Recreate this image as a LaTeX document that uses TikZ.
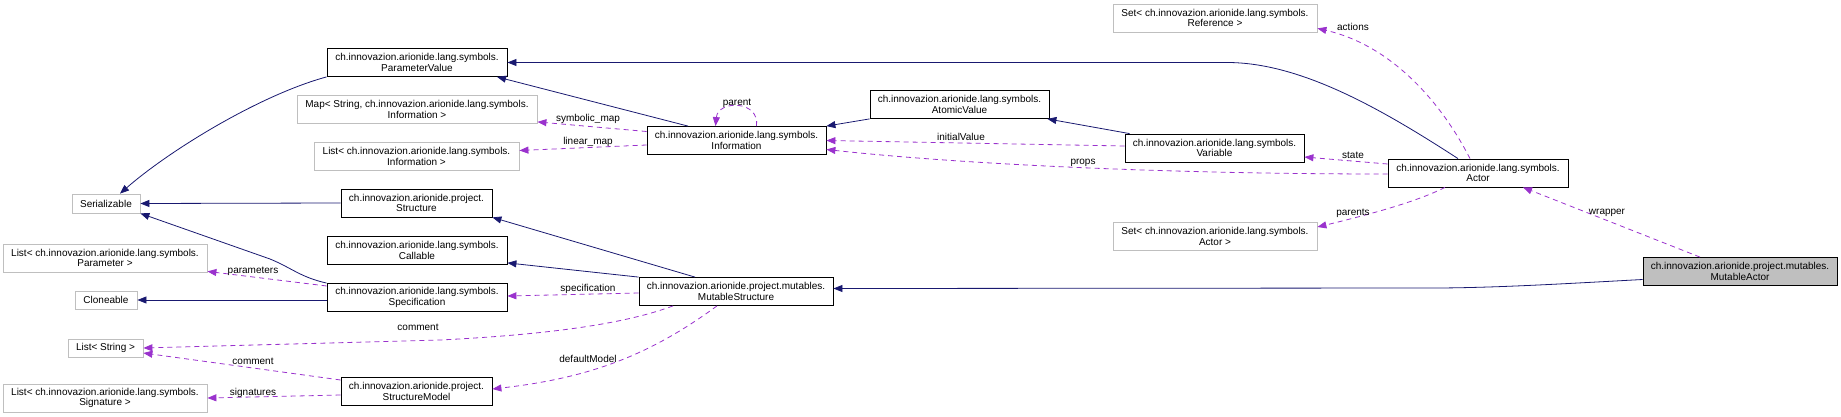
\documentclass[tikz,border=0pt]{standalone}
\usepackage{fontspec}
\setmainfont{Liberation Sans}
\usepackage{tikz}
\usetikzlibrary{arrows.meta}
\definecolor{edgeblue}{HTML}{191970}
\definecolor{edgepurple}{HTML}{9A32CD}
\definecolor{boxgray}{HTML}{BFBFBF}
\tikzstyle{cls} = [draw=black,line width=0.8pt,fill=white,inner sep=0pt,minimum height=28pt,align=center,font=\fontsize{10}{10.5}\selectfont]
\tikzstyle{ext} = [cls,draw=boxgray]
\tikzstyle{lbl} = [inner sep=0pt,font=\fontsize{10}{10.5}\selectfont]
\tikzstyle{inherit} = [draw=edgeblue,line width=0.8pt,-{Triangle[length=9pt,width=7pt]}]
\tikzstyle{member} = [draw=edgepurple,line width=0.8pt,dash pattern=on 5pt off 4pt,-{Triangle[length=9pt,width=7pt]}]

\begin{document}
\begin{tikzpicture}[x=1pt,y=-1pt]
								\useasboundingbox (0,0) rectangle (1841,417);
							
								%Nodes
								\node [cls, minimum width=180pt] (ParamVal) at (417,62.5) {ch.innovazion.arionide.lang.symbols.\\ParameterValue};
								\node [ext, minimum width=240pt] (SymMap) at (417,109.5) {Map< String, ch.innovazion.arionide.lang.symbols.\\Information >};
								\node [ext, minimum width=205pt] (LinMap) at (416.5,156.5) {List< ch.innovazion.arionide.lang.symbols.\\Information >};
								\node [ext, minimum width=68pt, minimum height=19pt] (Serial) at (106,203.5) {Serializable};
								\node [cls, minimum width=151pt] (Struct) at (416.5,203) {ch.innovazion.arionide.project.\\Structure};
								\node [cls, minimum width=180pt] (Call) at (417,250.5) {ch.innovazion.arionide.lang.symbols.\\Callable};
								\node [ext, minimum width=204pt] (ParList) at (105,258) {List< ch.innovazion.arionide.lang.symbols.\\Parameter >};
								\node [cls, minimum width=180pt] (Spec) at (417,297.5) {ch.innovazion.arionide.lang.symbols.\\Specification};
								\node [ext, minimum width=62pt, minimum height=18pt] (Clone) at (106,300) {Cloneable};
								\node [ext, minimum width=75pt, minimum height=18pt] (StrList) at (105.5,348) {List< String >};
								\node [ext, minimum width=204pt] (SigList) at (105,398) {List< ch.innovazion.arionide.lang.symbols.\\Signature >};
								\node [cls, minimum width=151pt] (Model) at (416.5,391.5) {ch.innovazion.arionide.project.\\StructureModel};
								\node [cls, minimum width=179pt] (Info) at (736.5,140.5) {ch.innovazion.arionide.lang.symbols.\\Information};
								\node [cls, minimum width=194pt] (MutStruct) at (736,291.5) {ch.innovazion.arionide.project.mutables.\\MutableStructure};
								\node [cls, minimum width=179pt] (Atomic) at (959.5,104.5) {ch.innovazion.arionide.lang.symbols.\\AtomicValue};
								\node [cls, minimum width=179pt] (Var) at (1214.5,148) {ch.innovazion.arionide.lang.symbols.\\Variable};
								\node [ext, minimum width=204pt] (RefSet) at (1215,18) {Set< ch.innovazion.arionide.lang.symbols.\\Reference >};
								\node [ext, minimum width=204pt] (ActSet) at (1215,236.5) {Set< ch.innovazion.arionide.lang.symbols.\\Actor >};
								\node [cls, minimum width=180pt] (Actor) at (1478,173) {ch.innovazion.arionide.lang.symbols.\\Actor};
								\node [cls, fill=boxgray, minimum width=194pt] (MutActor) at (1740,271.5) {ch.innovazion.arionide.project.mutables.\\MutableActor};
							
								%Lines
								\draw[inherit] (ParamVal.south west) .. controls (260,95) and (170,150) .. ([xshift=14pt]Serial.north);
								\draw[inherit] (Struct.west) -- (Serial.east);
								\draw[inherit] (Spec.north west) .. controls (300,277) and (292,268) .. (270,259) -- (Serial.south east);
								\draw[inherit] (Clone.east -| Spec.west) -- (Clone.east);
								\draw[inherit] ([xshift=-48.5pt]Info.north) -- ([xshift=80pt]ParamVal.south);
								\draw[inherit] (Atomic.south west) -- (Info.north east);
								\draw[inherit] ([xshift=5pt]Var.north west) -- ([xshift=-2pt]Atomic.south east);
								\draw[inherit] ([xshift=-20pt]Actor.north) .. controls (1380,108) and (1300,62.5) .. (1227,62.5) -- (ParamVal.east);
								\draw[inherit] ([xshift=-41pt]MutStruct.north) -- (Struct.south east);
								\draw[inherit] (MutStruct.north west) -- ([yshift=2pt]Call.south east);
								\draw[inherit] ([yshift=-8pt]MutActor.west) .. controls (1560,284) and (1500,287.5) .. (1440,288) -- ([yshift=3pt]MutStruct.east);
							
								\draw[member] ([yshift=9pt]Info.west) -- ([yshift=2pt]SymMap.south east);
								\draw[member] ([yshift=-4.5pt]Info.west) -- ([yshift=6pt]LinMap.east);
								\draw[member] ([xshift=20pt]Info.north) .. controls (760,100) and (718,100) .. ([xshift=-21pt]Info.north);
								\draw[member] ([yshift=2pt]Var.west) -- (Info.east);
								\draw[member] ([yshift=-1pt]Actor.west) .. controls (1150,174) and (950,163) .. ([yshift=-9pt]Info.east);
								\draw[member] ([yshift=9pt]Actor.west) -- ([yshift=-9pt]Var.east);
								\draw[member] ([xshift=-8pt]Actor.north) .. controls (1440,100) and (1390,45) .. ([yshift=4pt]RefSet.south east);
								\draw[member] ([xshift=-33pt]Actor.south) .. controls (1420,200) and (1380,212) .. ([yshift=9.5pt]ActSet.east);
								\draw[member] ([xshift=-40pt]MutActor.north) -- ([xshift=45pt]Actor.south);
								\draw[member] ([yshift=11.5pt]Spec.west) -- ([yshift=1pt]ParList.south east);
								\draw[member] ([yshift=-1.5pt]MutStruct.west) -- ([yshift=1.5pt]Spec.east);
								\draw[member] ([xshift=-63pt]MutStruct.south) .. controls (630,322) and (560,334) .. (440,340) -- (StrList.east);
								\draw[member] ([yshift=11.5pt]Model.west) -- ([yshift=-5pt]StrList.east);
								\draw[member] ([yshift=-3.5pt]Model.west) -- (SigList.east);
								\draw[member] ([xshift=-19pt]MutStruct.south) .. controls (650,355) and (590,378) .. ([yshift=2.5pt]Model.east);
							
								%Labels
								\node [lbl] (LSymMap) at (588,119) {symbolic\_map};
								\node [lbl] (LLinMap) at (588,142) {linear\_map};
								\node [lbl] (LParent) at (737,103) {parent};
								\node [lbl] (LInit) at (961,137) {initialValue};
								\node [lbl] (LProps) at (1083,163) {props};
								\node [lbl] (LState) at (1353,155) {state};
								\node [lbl] (LActions) at (1353,27) {actions};
								\node [lbl] (LParents) at (1353,213) {parents};
								\node [lbl] (LWrapper) at (1607,213) {wrapper};
								\node [lbl] (LParams) at (253,271) {parameters};
								\node [lbl] (LSpec) at (588,289) {specification};
								\node [lbl] (LComment) at (418,327) {comment};
								\node [lbl] (LComment2) at (253,361) {comment};
								\node [lbl] (LSigs) at (253,393) {signatures};
								\node [lbl] (LDefault) at (588,359) {defaultModel};
							
							\end{tikzpicture}
\end{document}
